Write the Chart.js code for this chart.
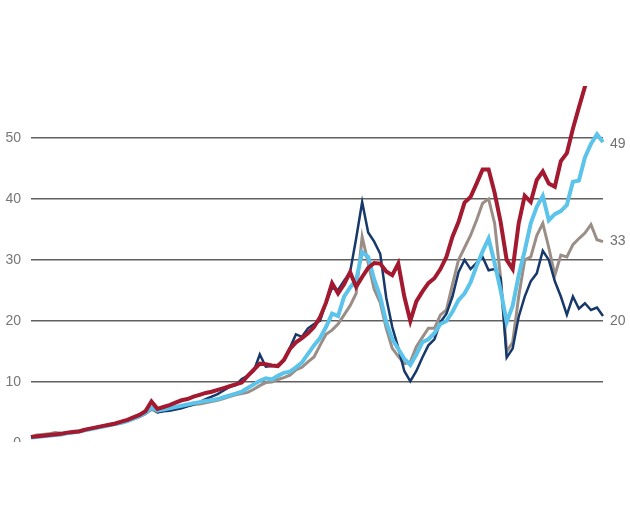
<!DOCTYPE html>
<html>
<head>
<meta charset="utf-8">
<script src="https://cdn.jsdelivr.net/npm/chart.js@4.4.1/dist/chart.umd.min.js"></script>
<style>
  body { margin: 0; background: #fff; }
  #wrap { width: 630px; height: 442px; overflow: hidden; }
</style>
</head>
<body>
<div id="wrap"><canvas id="lineChart" width="630" height="527"></canvas></div>
<script>
// dados (um ponto a cada ~6px)
var redValues = [1.0,1.1,1.2,1.3,1.4,1.5,1.7,1.8,1.9,2.2,2.4,2.6,2.8,3.0,3.2,3.5,3.8,4.2,4.6,5.2,
  6.8,5.6,5.9,6.2,6.6,7.0,7.2,7.6,7.9,8.2,8.4,8.7,9.0,9.3,9.6,9.9,11.0,12.0,13.0,12.9,
  12.7,12.6,13.6,15.4,16.5,17.2,18.0,19.0,20.6,23.0,26.2,24.5,26.0,28.0,25.6,27.2,28.7,29.5,29.4,28.1,
  27.5,29.4,24.0,20.0,23.2,24.8,26.2,27.0,28.5,30.5,33.8,36.2,39.4,40.3,42.5,44.8,44.8,41.0,36.2,30.0,
  28.5,36.0,40.5,39.5,43.1,44.5,42.5,42.0,46.2,47.5,51.5,55.0,58.4,61.0,63.0,64.0];

var blueValues = [0.9,1.0,1.1,1.2,1.3,1.4,1.6,1.7,1.9,2.1,2.3,2.5,2.7,2.9,3.1,3.3,3.6,4.0,4.4,4.9,
  5.8,5.3,5.5,5.7,5.9,6.1,6.3,6.5,6.7,6.9,7.0,7.2,7.5,7.8,8.1,8.4,9.0,9.6,10.2,10.6,
  10.4,11.0,11.5,11.7,12.4,13.2,14.6,16.0,17.2,19.0,21.2,20.8,24.0,25.5,26.7,31.3,30.5,26.8,24.0,19.8,
  17.0,15.4,13.8,12.8,14.5,16.5,17.0,18.0,19.5,20.0,21.5,23.4,24.5,26.3,29.0,31.4,33.5,29.5,25.0,19.8,
  22.5,27.5,31.5,36.0,38.7,40.5,36.5,37.5,38.0,39.0,42.8,43.0,46.8,49.0,50.6,49.3];

var navyValues = [1.0,1.1,1.2,1.3,1.4,1.5,1.6,1.7,1.9,2.1,2.3,2.5,2.7,2.9,3.1,3.4,3.7,4.0,4.4,4.8,
  5.8,5.0,5.2,5.3,5.5,5.7,6.0,6.3,6.7,7.2,7.6,8.0,8.6,9.2,9.5,10.5,11.0,11.8,14.5,12.5,
  12.6,12.8,13.5,15.6,17.8,17.4,18.8,19.5,20.0,23.0,25.4,25.1,26.6,28.0,33.5,39.5,34.5,33.0,31.0,23.8,
  19.0,15.6,11.8,10.1,11.8,14.0,16.0,17.0,19.8,21.2,24.0,28.0,30.0,28.5,29.5,30.5,28.3,28.5,27.0,14.0,
  15.5,20.7,24.0,26.5,27.8,31.5,30.0,26.5,24.0,21.0,24.0,22.0,22.9,21.8,22.2,20.8];

var grayValues = [1.0,1.3,1.4,1.5,1.7,1.6,1.7,1.9,2.0,2.2,2.4,2.6,2.8,3.0,3.1,3.3,3.6,3.9,4.3,4.8,
  5.5,5.1,5.3,5.5,5.7,5.9,6.1,6.3,6.4,6.6,6.8,7.0,7.3,7.6,7.9,8.1,8.3,8.8,9.4,9.9,
  10.0,10.4,10.7,11.1,12.0,12.4,13.3,14.1,16.0,17.8,18.5,19.5,21.0,22.5,24.5,33.8,29.5,25.2,23.0,18.8,
  15.5,14.2,13.0,13.3,15.8,17.3,18.8,18.8,21.0,21.8,26.0,30.0,32.0,34.0,36.5,39.3,40.0,36.0,27.0,15.0,
  16.5,24.0,30.0,30.5,34.0,36.0,32.0,27.5,30.8,30.5,32.5,33.5,34.4,35.8,33.3,33.0];

var xLabels = redValues.map(function (v, i) { return i; });
var yTicks = [0, 10, 20, 30, 40, 50];
var endLabels = [49, 33, 20];

var endLabelPlugin = {
  id: 'endLabels',
  afterDraw: function (chart) {
    var ctx = chart.ctx;
    var y = chart.scales.y;
    ctx.save();
    ctx.font = '14px "Liberation Sans", Arial, sans-serif';
    ctx.fillStyle = '#707070';
    ctx.textBaseline = 'middle';
    endLabels.forEach(function (v) {
      ctx.fillText(String(v), chart.chartArea.right + 7, y.getPixelForValue(v));
    });
    ctx.restore();
  }
};

var lineData = {
  labels: xLabels,
  datasets: [
    { label: "red", data: redValues, borderColor: "#a3192f", borderWidth: 4 },
    { label: "blue", data: blueValues, borderColor: "#5cc3ea", borderWidth: 4 },
    { label: "navy", data: navyValues, borderColor: "#17386a", borderWidth: 2.5 },
    { label: "gray", data: grayValues, borderColor: "#9a8e87", borderWidth: 3 }
  ]
};

var lineOptions = {
  responsive: false,
  animation: false,
  layout: { padding: { left: 0, right: 27, top: 86, bottom: 84 } },
  elements: { point: { radius: 0 }, line: { tension: 0, fill: false } },
  plugins: { legend: { display: false }, tooltip: { enabled: false } },
  scales: {
    x: { display: false },
    y: {
      min: 0,
      max: 58.5,
      afterBuildTicks: function (scale) {
        scale.ticks = yTicks.map(function (v) { return { value: v }; });
      },
      afterFit: function (scale) { scale.width = 31; },
      border: { display: false },
      grid: { color: '#606060', lineWidth: 1.5, drawTicks: false },
      ticks: {
        padding: 10,
        color: '#777',
        font: { family: '"Liberation Sans", Arial, sans-serif', size: 14 }
      }
    }
  }
};

var ctx = document.getElementById("lineChart").getContext("2d");
new Chart(ctx, { type: 'line', data: lineData, options: lineOptions, plugins: [endLabelPlugin] });
</script>
</body>
</html>
